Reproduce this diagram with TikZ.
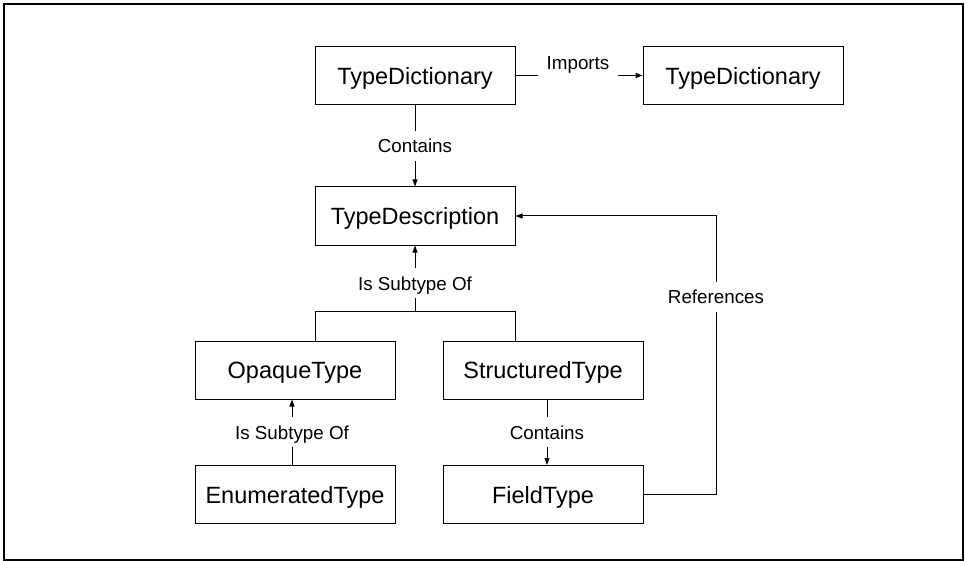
\documentclass[tikz,border=0pt]{standalone}
\usepackage{fontspec}
\setmainfont{Liberation Sans}
\usetikzlibrary{arrows.meta,calc}
\tikzset{
  typebox/.style={draw, line width=1pt, minimum width=200pt, minimum height=58pt,
    inner sep=0pt, text depth=0pt, font=\fontsize{23.5}{26}\selectfont},
  lbl/.style={fill=white, inner xsep=9pt, inner ysep=0pt, minimum height=30pt,
    text depth=0pt, font=\fontsize{18.8}{21}\selectfont},
  conn/.style={line width=1pt},
  arr/.style={conn, -{Triangle[length=7pt,width=5pt]}}
}
\begin{document}
\begin{tikzpicture}[x=1pt,y=-1pt]
\useasboundingbox (0,0) rectangle (965,561);
\draw[line width=2pt] (3.5,4) rectangle (963,559.5);

\node[typebox] (td1) at (415,75.5) {TypeDictionary};
\node[typebox] (td2) at (743,75.5) {TypeDictionary};
\node[typebox] (tdesc) at (415,216) {TypeDescription};
\node[typebox] (opq) at (295,370) {OpaqueType};
\node[typebox] (str) at (543,370) {StructuredType};
\node[typebox] (enu) at (295,494.5) {EnumeratedType};
\node[typebox] (fld) at (543,494.5) {FieldType};

% Imports
\draw[arr] (td1.east) -- (td2.west);
\node[lbl] (limp) at (578,63) {Imports};

% Contains (top)
\draw[arr] (td1.south) -- node[lbl] (lcon1) {Contains} (tdesc.north);

% Is Subtype Of (top) with branch
\coordinate (j) at (415,311);
\coordinate (jl) at ($(opq.north)+(20,0)$);
\coordinate (jr) at ($(str.north)+(-28,0)$);
\draw[arr] (j) -- node[lbl, pos=0.42] (lsub1) {Is Subtype Of} (tdesc.south);
\draw[conn] (jl) -- (jl |- j) -- (jr |- j) -- (jr);

% Is Subtype Of (bottom)
\draw[arr] ($(enu.north)+(-3,0)$) -- node[lbl] (lsub2) {Is Subtype Of} ($(opq.south)+(-3,0)$);

% Contains (bottom)
\draw[arr] ($(str.south)+(4,0)$) -- node[lbl] (lcon2) {Contains} ($(fld.north)+(4,0)$);

% References
\coordinate (rc) at (716,494.5);
\draw[arr] (fld.east) -- (rc) |- (tdesc.east);
\node[lbl] (lref) at (716,297) {References};
\end{tikzpicture}
\end{document}
